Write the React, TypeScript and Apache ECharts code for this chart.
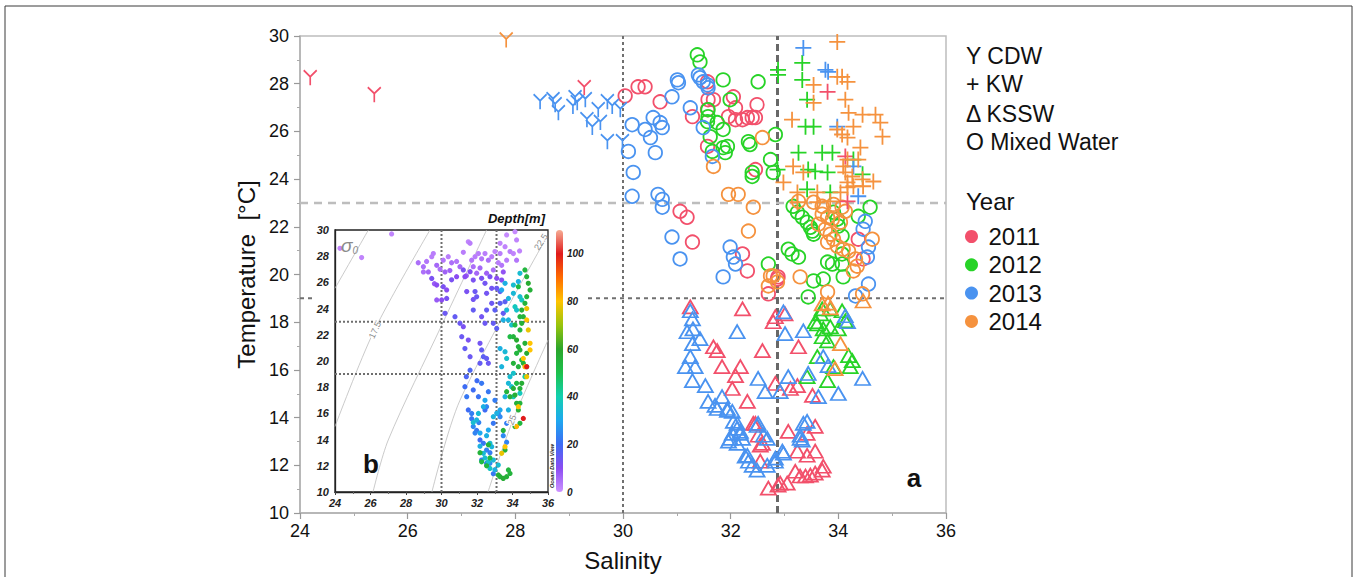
import React, { useEffect, useRef } from 'react';
import * as echarts from 'echarts';

const FONT = '"Liberation Sans", Arial, Helvetica, sans-serif';
const YEARS = ['2011', '2012', '2013', '2014'];
const YEAR_COLORS = ['#F2506B', '#27D327', '#4A93F0', '#F5923E'];

const X_TICKS = [24, 26, 28, 30, 32, 34, 36];
const Y_TICKS = [10, 12, 14, 16, 18, 20, 22, 24, 26, 28, 30];

// ---- CDW (Y symbol) ----
const CDW_2011 = [[24.19, 28.25], [25.38, 27.54], [29.28, 27.83]];
const CDW_2012: number[][] = [];
const CDW_2013 = [[28.46, 27.24], [28.70, 27.33], [28.74, 27.12], [28.80, 26.78], [29.11, 27.41], [29.15, 27.20], [29.07, 27.04], [29.30, 27.33], [29.33, 26.49], [29.43, 26.16], [29.54, 26.91], [29.58, 26.37], [29.71, 27.24], [29.80, 27.04], [29.71, 25.57], [29.95, 26.91], [29.99, 25.57]];
const CDW_2014 = [[27.83, 29.83]];

// ---- KW (+ symbol) ----
const KW_2011 = [[33.80, 27.66], [34.13, 24.95], [34.17, 23.07]];
const KW_2012 = [[32.88, 28.58], [32.88, 28.37], [33.33, 28.87], [33.33, 28.16], [33.42, 27.33], [33.39, 26.2], [33.54, 26.2], [33.26, 25.11], [33.70, 25.11], [33.89, 25.11], [33.44, 24.4], [33.57, 24.32], [33.80, 24.28], [34.45, 24.2], [33.42, 23.57], [33.85, 23.44], [34.28, 24.82], [32.87, 24.4]];
const KW_2013 = [[33.35, 29.5], [33.76, 28.58], [33.81, 28.5], [33.98, 26.2], [34.28, 24.53], [34.37, 23.28]];
const KW_2014 = [[33.98, 29.75], [33.54, 27.95], [33.54, 27.2], [33.98, 28.29], [34.07, 28.29], [34.17, 28.08], [34.13, 27.33], [33.14, 26.49], [34.19, 26.78], [34.45, 26.7], [34.69, 26.7], [34.78, 26.37], [34.82, 25.78], [33.98, 26.08], [34.07, 25.87], [34.17, 25.74], [34.28, 26.2], [34.41, 25.32], [34.37, 24.82], [34.17, 24.82], [34.09, 24.53], [33.16, 24.53], [33.35, 24.28], [32.98, 23.86], [34.13, 24.28], [34.26, 24.11], [34.45, 23.99], [34.65, 23.9], [34.28, 23.7], [34.17, 23.86], [34.46, 23.7], [33.24, 23.44], [33.61, 23.44], [33.24, 23.03], [33.61, 23.03], [33.85, 23.07], [34.04, 23.44], [34.17, 23.65]];

// ---- KSSW (triangle) ----
const KSSW_2011 = [[31.25, 18.64], [32.22, 18.56], [32.83, 18.23], [32.79, 18.02], [33.01, 18.35], [31.68, 16.97], [31.75, 16.81], [32.59, 16.81], [33.26, 16.97], [31.84, 16.14], [32.18, 16.14], [32.09, 15.76], [32.03, 15.22], [32.83, 15.43], [33.11, 15.22], [33.24, 15.34], [33.52, 14.93], [32.31, 14.68], [32.42, 13.76], [32.51, 13.26], [32.59, 12.92], [33.07, 13.42], [33.42, 13.34], [33.57, 13.63], [33.24, 12.59], [33.42, 12.42], [33.57, 12.59], [32.55, 12.17], [32.70, 11.04], [32.88, 11.17], [33.05, 11.25], [33.20, 11.75], [33.29, 11.55], [33.39, 11.55], [33.48, 11.59], [33.57, 11.67], [33.70, 11.80], [33.72, 11.96], [32.92, 11.25], [32.55, 12.84], [32.46, 13.76]];
const KSSW_2012 = [[33.70, 18.56], [33.67, 18.35], [33.85, 18.56], [34.07, 18.48], [34.13, 18.06], [33.57, 18.02], [33.72, 17.72], [33.85, 17.81], [34.00, 17.72], [33.70, 17.39], [33.80, 17.22], [33.61, 16.56], [33.91, 16.14], [34.19, 16.60], [34.26, 16.39], [34.22, 16.14], [33.42, 15.72], [33.80, 15.55], [33.61, 17.93]];
const KSSW_2013 = [[31.25, 18.48], [31.29, 18.14], [31.30, 17.72], [31.19, 17.60], [31.43, 17.31], [31.29, 17.10], [31.25, 16.56], [31.16, 16.14], [31.34, 16.14], [31.29, 15.55], [31.53, 15.34], [32.12, 17.60], [32.98, 18.43], [33.01, 17.52], [33.35, 17.64], [32.51, 15.64], [32.64, 15.09], [32.92, 15.09], [33.07, 15.72], [33.44, 15.85], [33.63, 14.88], [34.00, 15.01], [34.45, 15.64], [31.58, 14.68], [31.71, 14.51], [31.84, 14.88], [31.94, 14.38], [32.03, 14.26], [32.05, 13.84], [32.12, 13.55], [32.03, 13.34], [32.18, 13.34], [32.22, 13.13], [31.96, 13.01], [32.12, 12.92], [32.49, 13.67], [32.61, 13.26], [32.68, 13.13], [32.31, 12.42], [32.33, 12.17], [32.40, 12.00], [32.49, 11.80], [32.68, 12.00], [32.83, 12.30], [32.96, 12.59], [33.35, 13.76], [33.29, 13.26], [33.33, 13.05], [33.72, 16.56], [33.81, 16.18], [34.13, 18.27], [34.17, 18.02], [32.98, 12.51], [32.83, 12.17], [32.27, 12.38], [31.99, 13.13], [32.18, 13.42], [32.12, 13.76], [32.51, 13.76], [33.29, 13.13], [33.42, 13.84], [31.75, 14.38], [31.94, 14.30]];
const KSSW_2014 = [[33.70, 18.77], [33.81, 18.8], [33.85, 18.6], [34.04, 17.10], [33.94, 16.05], [34.46, 18.89]];

// ---- Mixed water (circle) ----
const MIX_2011 = [[30.04, 27.49], [30.28, 27.87], [30.41, 27.87], [30.69, 27.24], [31.57, 28.08], [31.58, 27.33], [31.68, 27.33], [31.57, 26.91], [32.05, 27.45], [32.09, 26.99], [31.29, 26.62], [31.96, 26.62], [32.09, 26.49], [32.22, 26.49], [32.31, 26.58], [32.40, 26.58], [32.46, 26.58], [32.49, 27.12], [31.57, 25.37], [32.46, 24.40], [31.06, 22.65], [31.19, 22.40], [31.29, 21.36], [32.22, 20.86], [32.31, 20.15], [32.70, 19.19], [32.88, 19.90], [34.37, 21.48], [34.46, 20.65], [32.87, 19.81]];
const MIX_2012 = [[31.38, 29.21], [31.43, 28.91], [31.86, 28.16], [32.51, 28.08], [31.99, 27.33], [31.58, 26.91], [31.58, 26.62], [31.57, 26.41], [31.75, 26.37], [31.86, 26.08], [31.62, 25.78], [32.33, 25.57], [32.36, 25.45], [32.83, 25.87], [31.86, 25.32], [31.94, 25.37], [31.90, 25.11], [31.66, 25.16], [32.74, 24.82], [32.40, 24.28], [32.40, 24.11], [32.79, 24.28], [33.16, 22.86], [33.24, 22.61], [33.33, 22.40], [33.42, 22.19], [33.48, 21.98], [33.52, 21.82], [33.54, 21.69], [33.91, 22.61], [33.98, 22.32], [34.37, 22.44], [34.59, 22.82], [34.07, 21.61], [33.07, 21.06], [33.14, 20.86], [33.26, 20.73], [33.80, 20.52], [33.89, 20.44], [34.07, 20.44], [32.70, 20.44], [33.54, 19.73], [33.72, 19.81], [34.09, 19.90], [33.44, 19.06], [34.07, 20.86], [34.00, 22.03]];
const MIX_2013 = [[31.01, 28.16], [31.03, 28.04], [31.40, 28.37], [31.43, 28.25], [31.49, 28.08], [31.57, 27.95], [31.58, 27.83], [30.91, 27.45], [31.25, 26.99], [30.56, 26.58], [30.69, 26.37], [30.73, 26.16], [30.17, 26.28], [30.41, 26.08], [30.51, 25.74], [31.49, 26.16], [30.10, 25.16], [30.60, 25.11], [30.19, 24.28], [30.17, 23.28], [30.65, 23.36], [30.73, 23.15], [30.73, 22.82], [30.91, 21.57], [31.06, 20.65], [31.99, 21.15], [32.05, 20.73], [32.09, 20.44], [31.86, 19.90], [31.66, 24.95], [34.50, 22.23], [34.46, 21.90], [34.56, 21.15], [34.54, 20.73], [34.56, 19.60], [34.32, 19.10]];
const MIX_2014 = [[31.68, 24.53], [32.59, 25.74], [31.96, 23.36], [32.14, 23.36], [32.42, 22.82], [32.33, 21.82], [32.79, 19.94], [32.87, 19.69], [33.29, 19.90], [33.80, 19.27], [33.26, 23.07], [33.54, 23.03], [33.70, 22.86], [33.91, 22.94], [34.07, 22.82], [34.13, 22.65], [33.63, 22.11], [33.76, 21.90], [33.85, 21.69], [33.91, 21.48], [33.80, 21.36], [33.98, 21.19], [34.09, 21.06], [34.19, 20.98], [34.32, 20.65], [34.35, 20.35], [34.28, 20.15], [34.63, 21.48], [34.45, 19.19], [32.74, 19.94], [32.70, 19.52], [33.70, 22.53], [33.89, 22.32], [34.04, 22.19], [33.80, 22.40]];

// ---- reference lines (main panel) ----
const MAIN_S_LINES = [30, 32.87];
const MAIN_T_LINES = [23, 19];

// ---- inset: [salinity, temperature, depth m] ----
const INSET_OBS = [
  [24.28, 28.6, 2], [25.5, 27.9, 2], [27.19, 29.7, 2],
  [28.69, 27.5, 5], [28.98, 27.2, 5], [29.16, 27.6, 4], [29.45, 27.96, 3], [29.54, 28.2, 3], [29.73, 27.3, 6], [29.92, 27.0, 5], [30.10, 27.7, 4], [30.38, 27.96, 3], [30.57, 27.5, 5], [30.85, 27.6, 4], [31.04, 27.2, 6], [31.23, 28.3, 3], [31.51, 29.1, 2], [31.61, 28.98, 3], [31.70, 27.7, 4], [31.89, 27.96, 3], [32.08, 28.2, 3], [32.26, 27.8, 4], [32.45, 28.2, 3], [32.64, 27.7, 5], [32.83, 27.96, 3], [33.01, 28.35, 2], [33.30, 28.2, 3], [33.58, 28.73, 2], [33.86, 28.35, 3], [34.05, 28.2, 2], [34.14, 29.87, 1], [34.23, 29.24, 2], [33.67, 29.62, 1], [33.30, 28.98, 2], [31.98, 26.7, 6], [31.79, 27.2, 5], [32.17, 27.1, 6], [32.54, 26.7, 7], [32.92, 26.95, 5], [33.39, 27.3, 4], [33.67, 27.7, 3], [34.23, 27.7, 4], [29.26, 26.8, 6], [28.98, 26.8, 5], [30.47, 26.9, 7], [31.4, 26.5, 8], [33.2, 27.5, 3], [34.4, 28.4, 2], [29.6, 25.9, 8], [30.2, 26.8, 7],
  [29.45, 26.3, 12], [29.73, 25.8, 10], [30.10, 25.67, 12], [30.29, 25.42, 10], [30.57, 26.2, 12], [30.85, 26.44, 10], [31.23, 26.95, 12], [31.32, 26.44, 10], [31.61, 26.82, 11], [31.79, 26.18, 12], [32.26, 26.31, 12], [32.45, 25.93, 13], [32.73, 26.44, 12], [33.11, 26.31, 10], [33.39, 26.18, 11], [33.48, 26.8, 9], [30.01, 24.66, 10], [30.29, 24.78, 12], [29.73, 24.66, 8], [30.2, 23.64, 14], [30.76, 23.38, 15], [31.04, 22.88, 14], [31.23, 22.62, 12], [31.42, 25.3, 12], [31.89, 25.3, 14], [31.98, 24.9, 14], [32.54, 25.17, 13], [32.83, 25.55, 13], [33.11, 25.55, 14], [33.30, 25.3, 15], [31.79, 24.7, 13], [31.14, 21.86, 14], [31.51, 21.6, 12], [31.32, 20.95, 15], [32.17, 21.35, 13], [32.26, 20.84, 15], [32.36, 20.33, 16], [32.54, 20.2, 15], [32.64, 19.82, 14], [32.17, 19.82, 15], [31.61, 20.33, 14], [31.79, 23.89, 15], [32.26, 23.38, 13], [32.45, 22.88, 14], [32.54, 23.89, 15], [32.83, 24.4, 14], [33.01, 23.89, 16], [33.30, 24.4, 16], [33.48, 23.64, 15], [33.58, 24.53, 16], [32.92, 22.88, 15], [33.11, 22.49, 16],
  [31.32, 18.04, 20], [31.42, 17.28, 22], [31.79, 17.79, 20], [32.08, 17.28, 21], [32.26, 18.3, 22], [32.45, 16.26, 20], [32.54, 16.51, 24], [32.92, 15.24, 22], [31.51, 16.26, 20], [31.70, 16.0, 23], [31.79, 15.0, 25], [31.98, 14.7, 22], [31.89, 14.5, 24], [32.17, 13.97, 20], [32.36, 13.72, 22], [32.54, 13.2, 24], [32.73, 13.0, 23], [32.26, 12.44, 22], [32.54, 12.2, 24], [32.73, 12.19, 25], [32.92, 11.4, 22], [33.30, 15.75, 25], [33.67, 15.24, 23], [33.48, 14.3, 25], [33.67, 13.8, 24], [31.61, 19.3, 18], [31.4, 18.8, 18], [32.0, 18.5, 20], [32.64, 17.66, 22], [33.01, 17.0, 23], [33.2, 16.0, 24], [31.7, 15.6, 22], [32.1, 15.3, 24],
  [34.05, 25.8, 35], [34.33, 26.06, 32], [34.42, 26.69, 35], [33.77, 24.78, 33], [34.05, 25.17, 34], [34.14, 24.15, 38], [34.23, 23.89, 36], [34.42, 24.91, 35], [34.52, 24.66, 38], [33.39, 25.42, 30], [33.58, 25.93, 32], [33.67, 23.89, 34], [33.77, 23.13, 33], [33.95, 22.75, 36], [33.48, 23.13, 32], [33.30, 20.95, 32], [33.58, 20.71, 34], [33.67, 20.2, 36], [33.39, 19.57, 33], [33.86, 18.8, 35], [34.05, 19.06, 36], [33.77, 18.3, 34], [33.95, 18.04, 36], [33.58, 17.28, 33], [33.77, 16.26, 32], [34.05, 17.28, 38], [34.42, 17.53, 38], [34.70, 18.8, 40], [34.80, 19.57, 42], [33.30, 16.26, 30], [32.92, 15.75, 33], [33.11, 16.01, 32], [32.64, 14.73, 30], [32.54, 14.3, 32], [32.73, 13.72, 35], [32.83, 13.46, 33], [32.92, 12.44, 34], [33.20, 12.06, 35], [32.36, 16.51, 32], [32.08, 16.0, 34], [32.45, 17.0, 30], [31.98, 15.5, 33], [31.79, 15.3, 35], [32.17, 14.5, 30], [32.17, 13.5, 32], [32.36, 12.95, 34], [32.45, 12.6, 35], [32.64, 12.3, 36], [32.73, 11.8, 37], [33.01, 11.7, 32],
  [34.05, 21.86, 55], [34.23, 21.6, 58], [34.33, 21.09, 55], [34.42, 20.84, 56], [34.14, 22.75, 52], [34.42, 22.37, 54], [34.52, 22.88, 56], [34.61, 23.38, 55], [34.70, 21.35, 56], [34.80, 20.59, 58], [34.23, 20.59, 54], [34.61, 19.82, 56], [34.52, 20.08, 53], [34.33, 19.57, 55], [33.86, 21.86, 52], [34.05, 19.82, 55], [34.80, 26.44, 55], [34.89, 25.93, 58], [34.99, 25.42, 56], [34.80, 24.91, 54], [34.70, 24.4, 55], [34.52, 23.89, 56], [34.42, 23.38, 54], [34.33, 25.67, 52], [34.70, 26.95, 54], [34.42, 16.77, 55], [34.23, 18.3, 52], [34.05, 17.91, 56], [34.52, 18.3, 57], [34.33, 16.26, 56], [34.14, 15.0, 55], [34.42, 15.24, 54], [33.48, 14.7, 55], [33.58, 13.2, 56], [33.30, 11.17, 55], [33.48, 11.04, 57], [33.67, 11.17, 56], [33.86, 11.42, 55], [33.77, 11.68, 54], [33.20, 11.3, 56], [32.17, 13.0, 55], [32.26, 12.3, 52], [32.54, 12.0, 54], [32.73, 12.6, 53], [32.64, 13.6, 55], [33.67, 17.66, 55], [33.86, 17.28, 56], [34.42, 17.9, 55], [34.23, 16.77, 56], [34.14, 17.4, 57],
  [34.99, 21.35, 80], [34.89, 22.37, 78], [34.80, 23.13, 80], [34.70, 19.57, 82], [34.99, 20.84, 80], [34.80, 24.0, 78], [34.33, 16.51, 80], [34.23, 15.0, 82], [33.58, 13.46, 80], [33.39, 12.95, 78], [34.61, 20.2, 80], [34.80, 18.8, 78],
  [34.80, 19.57, 100], [34.61, 15.62, 100],
];

// isopycnal (sigma-0) contour lines
const SIGMA_LINES = [
  [[24, 25.55], [25.88, 30]],
  [[24, 15.0], [26.2, 22.3], [29.35, 30]],
  [[26.14, 10.0], [27.0, 13.97], [30.0, 22.7], [32.54, 30]],
  [[29.46, 10], [31.04, 17.0], [35.74, 29.0]],
  [[32.62, 10], [33.97, 15.3], [36, 21.6]],
];
const INSET_S_LINES = [30, 33.1];
const INSET_T_LINES = [23, 19];

const DEPTH_MAX = 110;
const DEPTH_TICKS = [0, 20, 40, 60, 80, 100];
const DEPTH_COLORS = ['#cd92ff', '#8b4cf2', '#3d6cf4', '#1ea8ef', '#12d0b0', '#1cc14c', '#2ba52b', '#98c40c', '#ffc400', '#ff6c00', '#e01a1a', '#f6ad95'];

const Y_PATH = 'path://M0,0 L6,6 L12,0 M6,6 L6,14';
const PLUS_PATH = 'path://M7,0 L7,14 M0,7 L14,7';

const WATER_LABELS = ['Y CDW', '+ KW', 'Δ KSSW', 'O Mixed Water'];

export default function App() {
  const ref = useRef<HTMLDivElement>(null);
  useEffect(() => {
    if (!ref.current) return;
    const chart = echarts.init(ref.current, null, { renderer: 'svg' });

    const groups = [
      { symbol: 'circle', size: 13.5, sets: [MIX_2011, MIX_2012, MIX_2013, MIX_2014] },
      { symbol: 'triangle', size: [15, 13], sets: [KSSW_2011, KSSW_2012, KSSW_2013, KSSW_2014] },
      { symbol: PLUS_PATH, size: 16, sets: [KW_2011, KW_2012, KW_2013, KW_2014] },
      { symbol: Y_PATH, size: [13, 15], sets: [CDW_2011, CDW_2012, CDW_2013, CDW_2014] },
    ];

    const refLine = (data: number[][], color: string, width: number, type: any, idx: number, z: number) => ({
      type: 'line', xAxisIndex: idx, yAxisIndex: idx, data, showSymbol: false, symbol: 'none', silent: true,
      lineStyle: { color, width, type }, z, animation: false,
    });

    const series: any[] = [];
    series.push(refLine([[MAIN_S_LINES[0], 10], [MAIN_S_LINES[0], 30]], '#707070', 2, [3, 3], 0, 2));
    series.push(refLine([[MAIN_S_LINES[1], 10], [MAIN_S_LINES[1], 30]], '#686868', 3, [7, 4], 0, 2));
    series.push(refLine([[24, MAIN_T_LINES[0]], [36, MAIN_T_LINES[0]]], '#bdbdbd', 2.5, [8, 6], 0, 2));
    series.push(refLine([[24, MAIN_T_LINES[1]], [36, MAIN_T_LINES[1]]], '#707070', 2, [4, 4], 0, 2));

    groups.forEach((g) => {
      g.sets.forEach((data, i) => {
        series.push({
          type: 'scatter', name: YEARS[i], xAxisIndex: 0, yAxisIndex: 0, data,
          symbol: g.symbol, symbolSize: g.size,
          itemStyle: { color: 'rgba(0,0,0,0)', borderColor: YEAR_COLORS[i], borderWidth: 1.8, opacity: 1 },
          emphasis: { disabled: true }, silent: true, z: 3,
        });
      });
    });

    SIGMA_LINES.forEach((l) => {
      series.push({
        type: 'line', xAxisIndex: 1, yAxisIndex: 1, data: l, showSymbol: false, symbol: 'none', silent: true,
        smooth: 0.3, lineStyle: { color: '#bdbdbd', width: 0.8 }, z: 9,
      });
    });
    INSET_S_LINES.forEach((s) => series.push(refLine([[s, 10], [s, 30]], '#6e6e6e', 2, [2, 2], 1, 9)));
    INSET_T_LINES.forEach((t) => series.push(refLine([[24, t], [36, t]], '#6e6e6e', 2, [2, 2], 1, 9)));
    const insetIdx = series.length;
    series.push({
      type: 'scatter', name: 'inset', xAxisIndex: 1, yAxisIndex: 1, data: INSET_OBS, symbolSize: 5.2,
      itemStyle: { opacity: 1 }, silent: true, z: 10,
    });
    series.push({
      type: 'bar', xAxisIndex: 2, yAxisIndex: 2, data: [DEPTH_MAX], barWidth: 7, silent: true, z: 9,
      itemStyle: {
        borderRadius: 3.5,
        color: new echarts.graphic.LinearGradient(0, 1, 0, 0,
          DEPTH_COLORS.map((c, i) => ({ offset: i / (DEPTH_COLORS.length - 1), color: c }))),
      },
    });

    const insetLabel = { fontSize: 11, fontWeight: 'bold', fontStyle: 'italic', color: '#222', fontFamily: FONT };

    const option: any = {
      animation: false,
      backgroundColor: '#ffffff',
      grid: [
        { left: 300, top: 36, width: 646, height: 479, show: true, borderColor: '#bdbdbd', borderWidth: 1.5, backgroundColor: 'transparent', z: 0 },
        { left: 335, top: 230, width: 213, height: 262, show: true, borderColor: '#222', borderWidth: 1.3, backgroundColor: 'transparent', z: 9 },
        { left: 556, top: 230, width: 7, height: 262, show: false, z: 9 },
      ],
      xAxis: [
        {
          gridIndex: 0, type: 'value', min: X_TICKS[0], max: X_TICKS[X_TICKS.length - 1], interval: 2,
          name: 'Salinity', nameLocation: 'middle', nameGap: 35,
          nameTextStyle: { fontSize: 24, color: '#111', fontFamily: FONT },
          axisLine: { onZero: false, lineStyle: { color: '#b0b0b0', width: 1.5 } },
          axisTick: { show: true, inside: false, length: 6, lineStyle: { color: '#999', width: 1.2 } },
          minorTick: { show: true, splitNumber: 2, length: 3, lineStyle: { color: '#aaa' } },
          axisLabel: { fontSize: 18, color: '#111', fontFamily: FONT, margin: 9 },
          splitLine: { show: false },
        },
        {
          gridIndex: 1, type: 'value', min: 24, max: 36, interval: 2, z: 9,
          axisLine: { onZero: false, lineStyle: { color: '#222', width: 1.3 } },
          axisTick: { show: true, length: 3, lineStyle: { color: '#444' } },
          minorTick: { show: true, splitNumber: 2, length: 2, lineStyle: { color: '#666' } },
          axisLabel: { ...insetLabel, margin: 5 },
          splitLine: { show: false },
        },
        { gridIndex: 2, type: 'category', data: ['depth'], show: false },
      ],
      yAxis: [
        {
          gridIndex: 0, type: 'value', min: Y_TICKS[0], max: Y_TICKS[Y_TICKS.length - 1], interval: 2,
          name: 'Temperature  [°C]', nameLocation: 'middle', nameGap: 42,
          nameTextStyle: { fontSize: 24, color: '#111', fontFamily: FONT },
          axisLine: { onZero: false, lineStyle: { color: '#b0b0b0', width: 1.5 } },
          axisTick: { show: true, inside: false, length: 6, lineStyle: { color: '#999', width: 1.2 } },
          minorTick: { show: true, splitNumber: 2, length: 3, lineStyle: { color: '#aaa' } },
          axisLabel: { fontSize: 18, color: '#111', fontFamily: FONT, margin: 11 },
          splitLine: { show: false },
        },
        {
          gridIndex: 1, type: 'value', min: 10, max: 30, interval: 2, z: 9,
          axisLine: { onZero: false, lineStyle: { color: '#222', width: 1.3 } },
          axisTick: { show: false },
          axisLabel: { ...insetLabel, margin: 6 },
          splitLine: { show: false },
        },
        {
          gridIndex: 2, type: 'value', min: 0, max: DEPTH_MAX, interval: 20, position: 'right', z: 9,
          axisLine: { show: false }, axisTick: { show: false }, splitLine: { show: false },
          axisLabel: {
            ...insetLabel, fontSize: 10, margin: 4,
            formatter: (v: number) => (DEPTH_TICKS.includes(v) ? String(v) : ''),
          },
        },
      ],
      visualMap: {
        type: 'continuous', show: false, min: 0, max: DEPTH_MAX, dimension: 2, seriesIndex: insetIdx,
        inRange: { color: DEPTH_COLORS },
      },
      legend: {
        orient: 'vertical', left: 960, top: 219.5, itemWidth: 24, itemHeight: 13, itemGap: 4.3,
        selectedMode: false, icon: 'circle',
        textStyle: { fontSize: 24, color: '#111', fontFamily: FONT },
        data: YEARS.map((y, i) => ({ name: y, icon: 'circle', itemStyle: { color: YEAR_COLORS[i], borderWidth: 0 } })),
      },
      graphic: {
        elements: [
          { type: 'rect', shape: { x: 5, y: 6, width: 1347, height: 600 }, style: { fill: 'none', stroke: '#3a3a3a', lineWidth: 1 }, z: 0, silent: true },
          { type: 'rect', shape: { x: 312, y: 208, width: 274, height: 304 }, style: { fill: '#ffffff' }, z: 6, silent: true },
          ...WATER_LABELS.map((t, i) => ({
            type: 'text', x: 966, y: [55.7, 84, 114, 142][i], z: 10, silent: true,
            style: { text: t, fontSize: 23, fontFamily: FONT, fill: '#111', textAlign: 'left', align: 'left', textVerticalAlign: 'middle', verticalAlign: 'middle' },
          })),
          { type: 'text', x: 966, y: 201.7, z: 10, silent: true,
            style: { text: 'Year', fontSize: 24, fontFamily: FONT, fill: '#111', textAlign: 'left', align: 'left', textVerticalAlign: 'middle', verticalAlign: 'middle' } },
          { type: 'text', x: 914, y: 478, z: 10, silent: true,
            style: { text: 'a', fontSize: 26, fontWeight: 'bold', fontFamily: FONT, fill: '#111', textAlign: 'center', align: 'center', textVerticalAlign: 'middle', verticalAlign: 'middle' } },
          { type: 'text', x: 371, y: 464, z: 11, silent: true,
            style: { text: 'b', fontSize: 26, fontWeight: 'bold', fontFamily: FONT, fill: '#111', textAlign: 'center', align: 'center', textVerticalAlign: 'middle', verticalAlign: 'middle' } },
          { type: 'text', x: 545, y: 218, z: 11, silent: true,
            style: { text: 'Depth[m]', fontSize: 13, fontWeight: 'bold', fontStyle: 'italic', fontFamily: FONT, fill: '#111', textAlign: 'right', align: 'right', textVerticalAlign: 'middle', verticalAlign: 'middle' } },
          { type: 'text', x: 341, y: 245, z: 11, silent: true,
            style: { text: '{s|σ}{n|0}', rich: { s: { fontSize: 19, fontStyle: 'italic', fill: '#8a8a8a', color: '#8a8a8a', fontFamily: FONT }, n: { fontSize: 10, fontStyle: 'italic', fill: '#8a8a8a', color: '#8a8a8a', fontFamily: FONT, padding: [10, 0, 0, 0] } },
              textAlign: 'left', align: 'left', textVerticalAlign: 'middle', verticalAlign: 'middle' } },
          { type: 'text', x: 375, y: 330, rotation: 1.14, z: 11, silent: true,
            style: { text: '17.5', fontSize: 9, fontFamily: FONT, fill: '#8a8a8a', backgroundColor: '#fff', textAlign: 'center', align: 'center', textVerticalAlign: 'middle', verticalAlign: 'middle' } },
          { type: 'text', x: 541, y: 242, rotation: 1.0, z: 11, silent: true,
            style: { text: '22.5', fontSize: 9, fontFamily: FONT, fill: '#8a8a8a', textAlign: 'center', align: 'center', textVerticalAlign: 'middle', verticalAlign: 'middle' } },
          { type: 'text', x: 512, y: 420, rotation: 1.2, z: 11, silent: true,
            style: { text: '25', fontSize: 9, fontFamily: FONT, fill: '#8a8a8a', backgroundColor: '#fff', textAlign: 'center', align: 'center', textVerticalAlign: 'middle', verticalAlign: 'middle' } },
          { type: 'text', x: 552, y: 466, rotation: Math.PI / 2, z: 11, silent: true,
            style: { text: 'Ocean Data View', fontSize: 5.5, fontWeight: 'bold', fontStyle: 'italic', fontFamily: FONT, fill: '#222', textAlign: 'center', align: 'center', textVerticalAlign: 'middle', verticalAlign: 'middle' } },
        ],
      },
      series,
    };

    chart.setOption(option);
    return () => chart.dispose();
  }, []);

  return <div ref={ref} style={{ position: 'absolute', left: 0, top: 0, width: 1359, height: 577, background: '#fff' }} />;
}
